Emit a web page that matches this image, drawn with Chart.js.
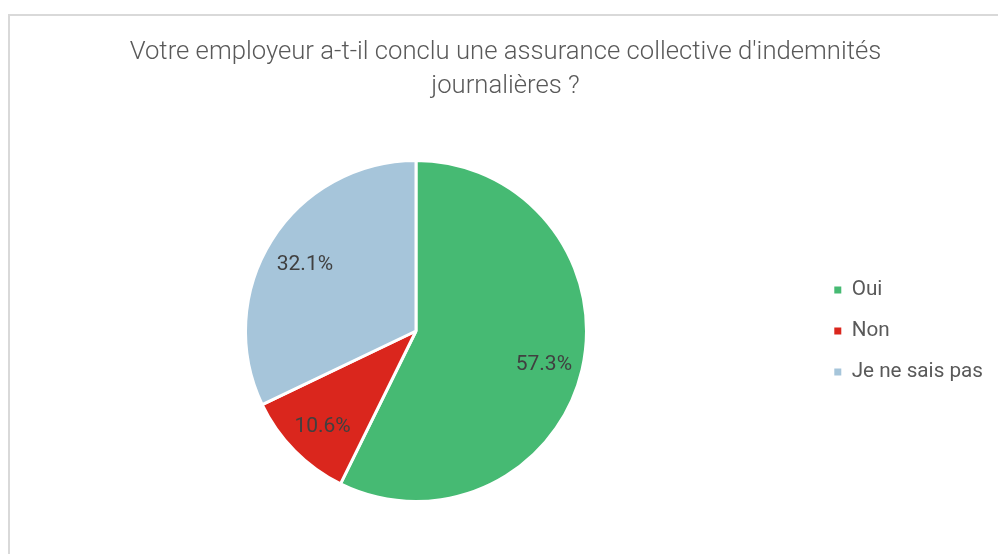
<!DOCTYPE html>
<html lang="fr">
<head>
<meta charset="utf-8">
<title>Assurance collective d'indemnités journalières</title>
<script src="https://cdn.jsdelivr.net/npm/chart.js@4.4.1/dist/chart.umd.min.js"></script>
<style>
    html, body { margin: 0; padding: 0; background: #ffffff; overflow: hidden; }
    #frame {
        position: absolute; left: 8px; top: 14px;
        width: 1100px; height: 700px;
        border: 2px solid #d9d9d9;
    }
    #wrap { position: absolute; left: 0; top: 0; width: 998px; height: 554px; }
</style>
</head>
<body>
<div id="frame"></div>
<div id="wrap"><canvas id="PieChart"></canvas></div>

<script>
// ---------------- Data ----------------
const titleLines = [
    "Votre employeur a-t-il conclu une assurance collective d'indemnités",
    "journalières ?"
];
const categories = ["Oui", "Non", "Je ne sais pas"];
const shares = [57.3, 10.6, 32.1];
const sliceColors = ["#46ba73", "#da261d", "#a6c5da"];


// ---------------- Percent labels inside the slices ----------------
const sliceLabels = {
    id: "sliceLabels",
    afterDatasetsDraw(chart) {
        const ctx = chart.ctx;
        const meta = chart.getDatasetMeta(0);

        ctx.save();
        ctx.font = "400 21px Roboto";
        ctx.fillStyle = "#404040";
        ctx.textAlign = "center";
        ctx.textBaseline = "middle";

        meta.data.forEach((arc, i) => {
            const p = arc.getProps(["x", "y", "startAngle", "endAngle", "outerRadius"], true);
            const mid = (p.startAngle + p.endAngle) / 2;
            const r = p.outerRadius * 0.77;
            ctx.fillText(shares[i].toFixed(1) + "%", p.x + Math.cos(mid) * r, p.y + Math.sin(mid) * r + 4);
        });

        ctx.restore();
    }
};


// ---------------- Chart ----------------
document.addEventListener("DOMContentLoaded", () => {

    const ctx = document.getElementById("PieChart").getContext("2d");

    new Chart(ctx, {

        type: "pie",

        data: {
            labels: categories,
            datasets: [{
                data: shares,
                backgroundColor: sliceColors,
                borderColor: "#ffffff",
                borderWidth: 3
            }]
        },

        options: {

            responsive: true,
            maintainAspectRatio: false,
            animation: false,

            layout: {
                padding: { left: 18, right: 5, top: 0, bottom: 51 }
            },

            plugins: {

                title: {
                    display: true,
                    text: titleLines,
                    color: "#595959",
                    font: { family: "Roboto", size: 25.7, weight: 300, lineHeight: 34 / 25.7 },
                    padding: { top: 36, bottom: 55 }
                },

                legend: {
                    position: "right",
                    fullSize: false,
                    labels: {
                        usePointStyle: true,
                        pointStyle: "rect",
                        boxWidth: 7,
                        boxHeight: 7,
                        padding: 20.3,
                        color: "#595959",
                        font: { family: "Roboto", size: 20.7 },
                        generateLabels(chart) {
                            return Chart.overrides.pie.plugins.legend.labels.generateLabels(chart)
                                .map(item => ({ ...item, lineWidth: 0, strokeStyle: item.fillStyle }));
                        }
                    }
                },

                tooltip: { enabled: false }

            }

        },

        plugins: [sliceLabels]

    });

});
</script>
</body>
</html>
